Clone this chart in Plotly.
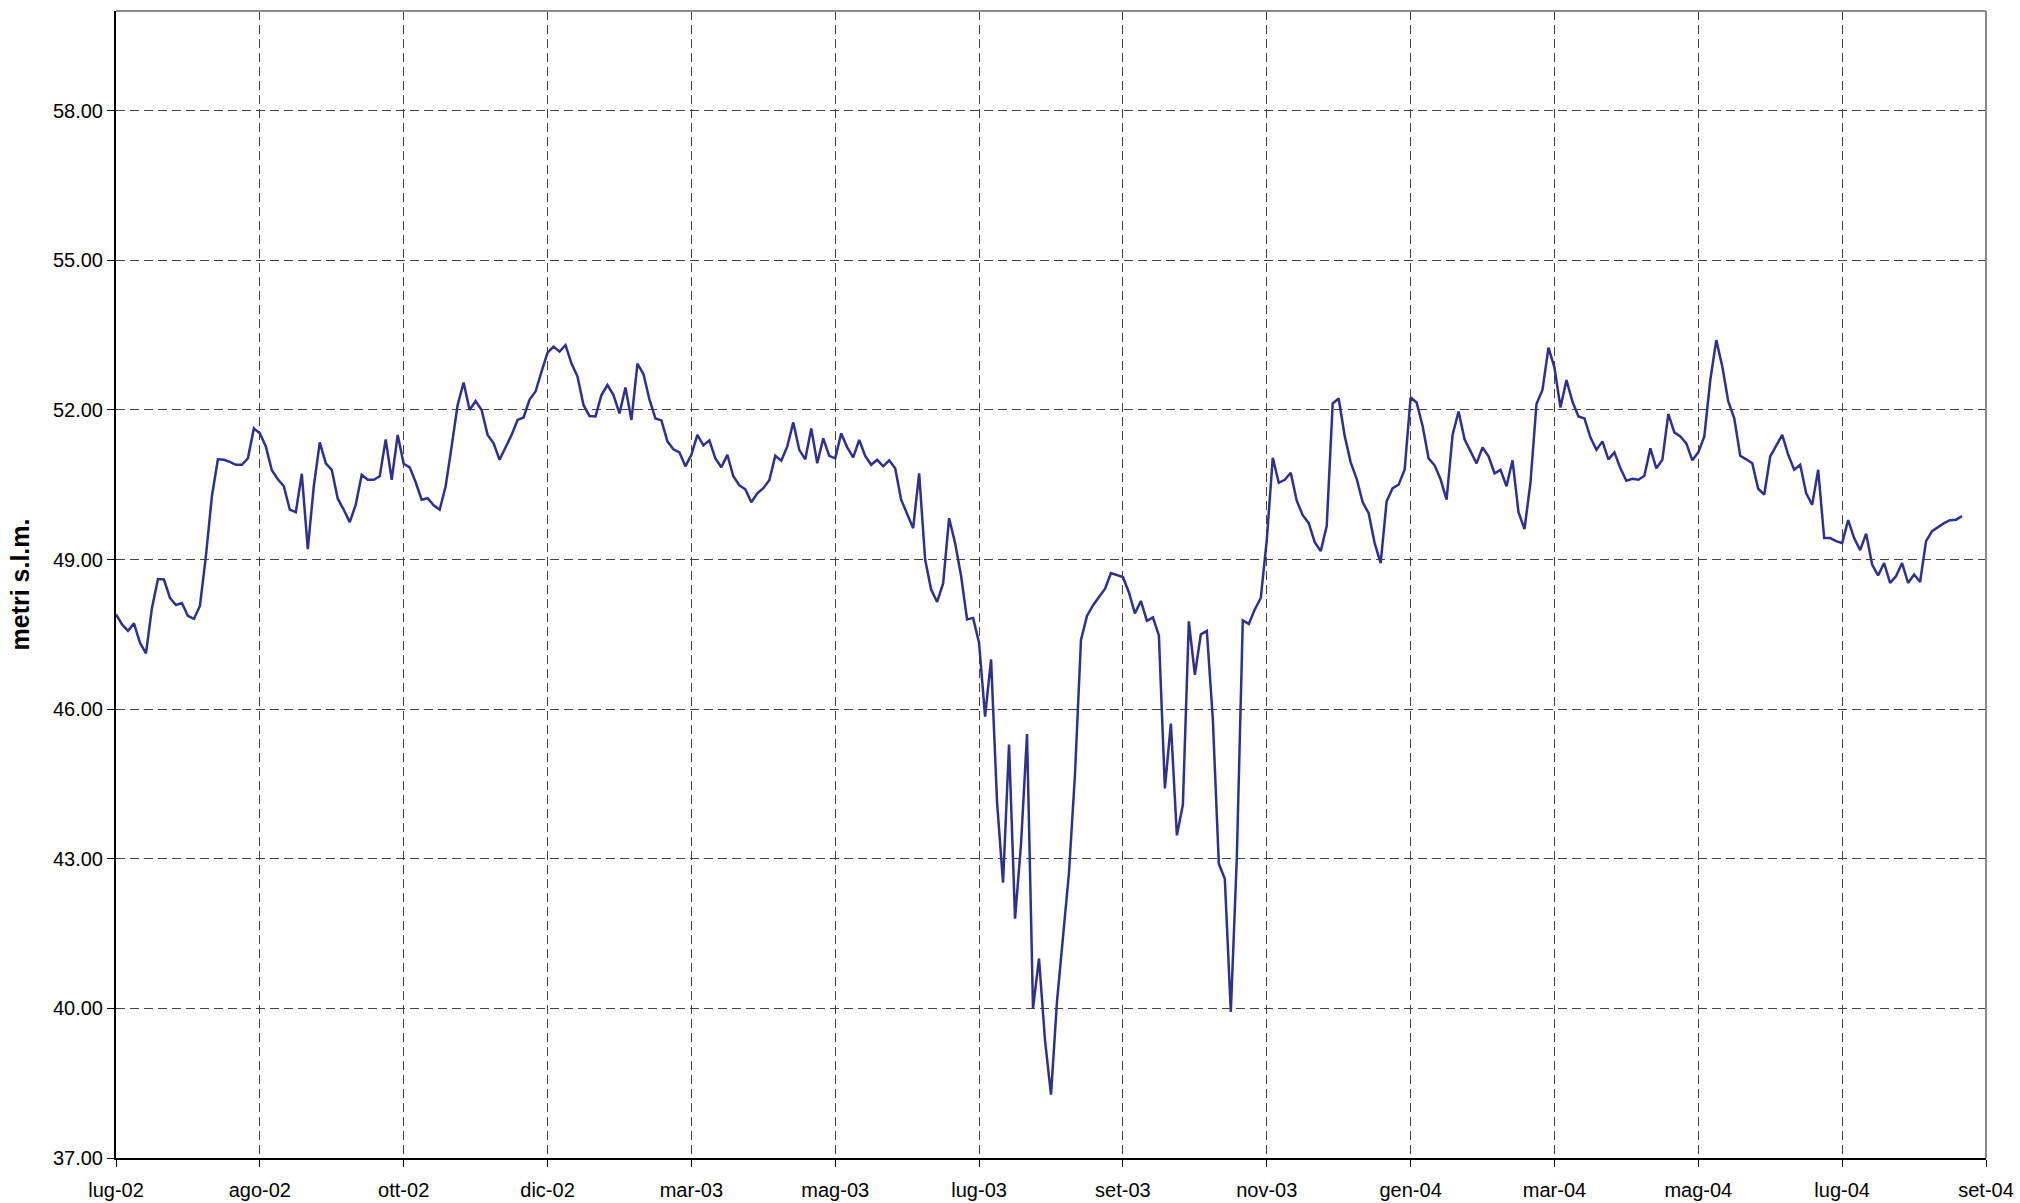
import plotly.graph_objects as go

# Month labels on the category axis (one label every POINTS_PER_LABEL readings)
tick_labels = ["lug-02", "ago-02", "ott-02", "dic-02", "mar-03", "mag-03", "lug-03",
               "set-03", "nov-03", "gen-04", "mar-04", "mag-04", "lug-04", "set-04"]
POINTS_PER_LABEL = 24

# Groundwater level readings (metri s.l.m.), in category order
levels = [
    47.90, 47.70, 47.57, 47.72, 47.33, 47.12, 48.03, 48.61, 48.60, 48.23,
    48.09, 48.13, 47.87, 47.81, 48.07, 49.07, 50.27, 51.01, 51.00, 50.96,
    50.90, 50.90, 51.03, 51.63, 51.53, 51.27, 50.79, 50.61, 50.47, 50.00,
    49.95, 50.72, 49.21, 50.47, 51.35, 50.93, 50.80, 50.22, 50.00, 49.75,
    50.10, 50.70, 50.60, 50.60, 50.67, 51.41, 50.60, 51.50, 50.92, 50.85,
    50.55, 50.20, 50.23, 50.09, 50.00, 50.47, 51.27, 52.10, 52.55, 52.00,
    52.18, 52.00, 51.50, 51.33, 51.00, 51.25, 51.50, 51.80, 51.85, 52.21,
    52.37, 52.77, 53.15, 53.27, 53.17, 53.30, 52.93, 52.67, 52.10, 51.88,
    51.87, 52.30, 52.50, 52.30, 51.93, 52.45, 51.80, 52.93, 52.72, 52.21,
    51.83, 51.79, 51.37, 51.21, 51.15, 50.87, 51.10, 51.50, 51.29, 51.39,
    51.03, 50.85, 51.10, 50.67, 50.49, 50.41, 50.15, 50.33, 50.43, 50.59,
    51.08, 50.98, 51.27, 51.75, 51.20, 51.01, 51.63, 50.93, 51.43, 51.08,
    51.03, 51.53, 51.25, 51.05, 51.40, 51.08, 50.90, 51.00, 50.87, 50.99,
    50.83, 50.20, 49.92, 49.63, 50.73, 49.00, 48.40, 48.15, 48.52, 49.83,
    49.33, 48.67, 47.80, 47.83, 47.33, 45.85, 47.00, 44.13, 42.52, 45.29,
    41.80, 43.30, 45.50, 40.00, 41.00, 39.36, 38.27, 40.14, 41.43, 42.72,
    44.69, 47.39, 47.87, 48.08, 48.25, 48.41, 48.73, 48.69, 48.65, 48.34,
    47.92, 48.17, 47.77, 47.84, 47.48, 44.41, 45.71, 43.47, 44.08, 47.76,
    46.69, 47.50, 47.57, 45.80, 42.90, 42.60, 39.93, 43.01, 47.78, 47.71,
    48.00, 48.23, 49.39, 51.04, 50.54, 50.60, 50.74, 50.18, 49.89, 49.73,
    49.35, 49.17, 49.67, 52.13, 52.23, 51.48, 50.95, 50.62, 50.15, 49.93,
    49.33, 48.93, 50.17, 50.43, 50.50, 50.80, 52.25, 52.15, 51.68, 51.03,
    50.89, 50.61, 50.20, 51.50, 51.97, 51.41, 51.16, 50.93, 51.25, 51.07,
    50.73, 50.80, 50.47, 50.99, 49.95, 49.61, 50.55, 52.12, 52.40, 53.25,
    52.85, 52.05, 52.60, 52.17, 51.87, 51.83, 51.45, 51.20, 51.37, 51.01,
    51.15, 50.83, 50.58, 50.62, 50.60, 50.68, 51.23, 50.83, 51.00, 51.92,
    51.55, 51.47, 51.33, 50.99, 51.15, 51.47, 52.60, 53.40, 52.87, 52.17,
    51.83, 51.08, 51.01, 50.93, 50.42, 50.30, 51.07, 51.30, 51.50, 51.10,
    50.80, 50.90, 50.33, 50.10, 50.80, 49.43, 49.43, 49.37, 49.33, 49.79,
    49.43, 49.19, 49.52, 48.90, 48.68, 48.93, 48.53, 48.67, 48.93, 48.53,
    48.70, 48.55, 49.37, 49.57, 49.65, 49.73, 49.79, 49.80, 49.87,
]

y_ticks = [37, 40, 43, 46, 49, 52, 55, 58]
y_min, y_max = 37, 60

x_index = list(range(len(levels)))
tick_positions = [i * POINTS_PER_LABEL for i in range(len(tick_labels))]
x_max = tick_positions[-1]

FONT = "Liberation Sans, Arial, Helvetica, sans-serif"
GRID = "#444444"

fig = go.Figure()
fig.add_trace(go.Scatter(
    x=x_index, y=levels, mode="lines",
    line=dict(color="#2f3192", width=2.5),
    showlegend=False, hoverinfo="skip",
))

fig.update_layout(
    width=2020, height=1203,
    margin=dict(l=116, r=34, t=11, b=45, autoexpand=False),
    paper_bgcolor="white", plot_bgcolor="white",
    font=dict(family=FONT, size=20, color="black"),
)

fig.update_xaxes(
    range=[0, x_max], automargin=False,
    tickmode="array", tickvals=tick_positions, ticktext=tick_labels,
    ticks="outside", ticklen=7, tickwidth=1, tickcolor="black",
    ticklabeloverflow="allow", ticklabelstandoff=6,
    showgrid=True, gridcolor=GRID, gridwidth=1, griddash="9px,5px",
    showline=True, linecolor="black", linewidth=2,
    zeroline=False, tickfont=dict(size=20, family=FONT, color="black"),
)
fig.update_yaxes(
    range=[y_min, y_max], automargin=False,
    tickmode="array", tickvals=y_ticks, ticktext=[f"{v:.2f}" for v in y_ticks],
    ticks="outside", ticklen=7, tickwidth=1, tickcolor="black",
    showgrid=True, gridcolor=GRID, gridwidth=1, griddash="9px,5px",
    showline=True, linecolor="black", linewidth=2,
    zeroline=False, tickfont=dict(size=20, family=FONT, color="black"),
    title=dict(text="<b>metri s.l.m.</b>", font=dict(size=25, family=FONT, color="black"),
               standoff=16),
)

# grey top and right frame of the plot area
fig.add_shape(type="line", xref="paper", yref="paper", x0=0, x1=1, y0=1, y1=1,
              line=dict(color="#8a8a8a", width=2))
fig.add_shape(type="line", xref="paper", yref="paper", x0=1, x1=1, y0=0, y1=1,
              line=dict(color="#8a8a8a", width=2))

fig.write_html("out.html", config={"displayModeBar": False},
               post_script="document.body.style.margin='0px';")
